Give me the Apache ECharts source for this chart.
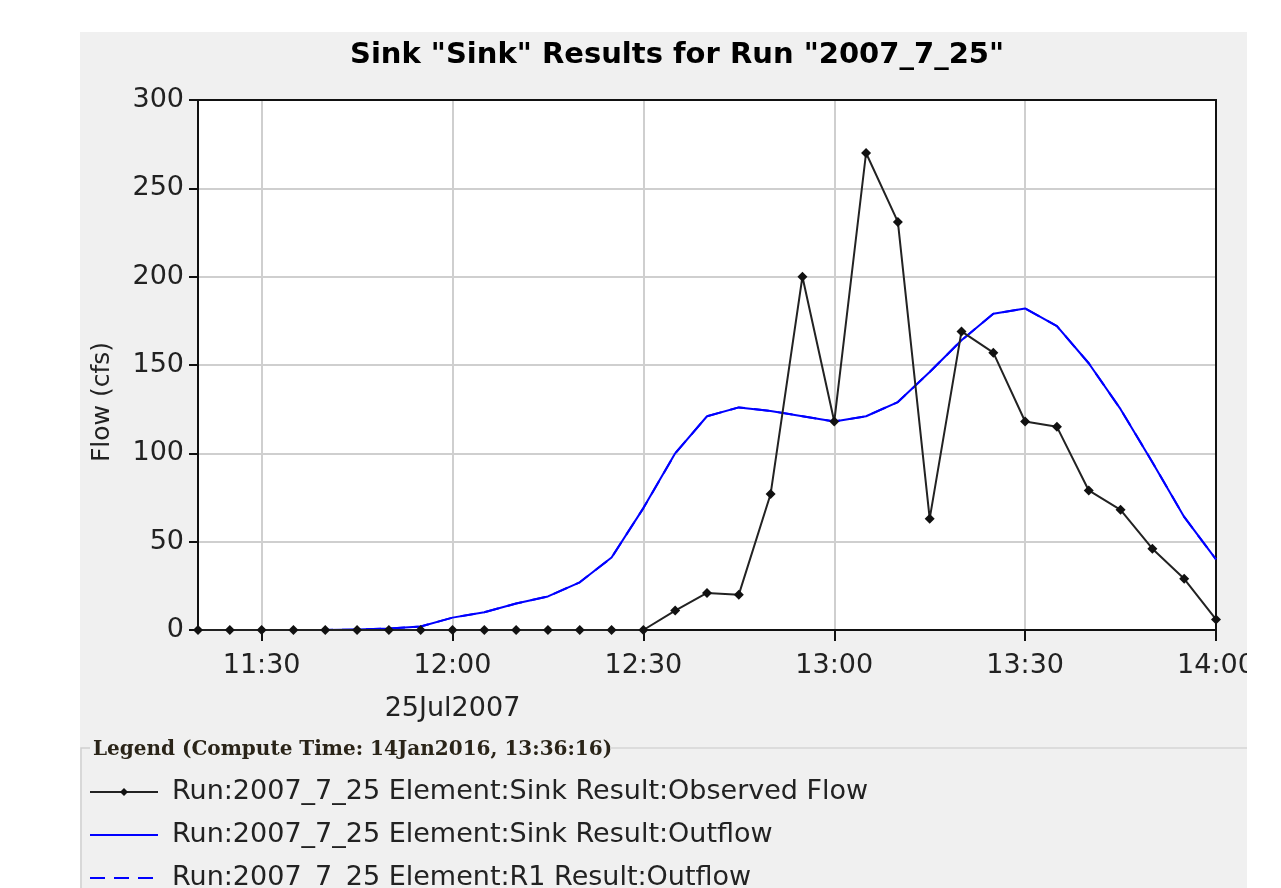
<!DOCTYPE html>
<html>
<head>
<meta charset="utf-8">
<script src="https://cdn.jsdelivr.net/npm/echarts@6/dist/echarts.min.js"></script>
<style>
  html, body { margin: 0; padding: 0; background: #fff; overflow: hidden; }
  #chart { position: absolute; left: 80px; top: 32px; width: 1167px; height: 900px; }
</style>
</head>
<body>
<div id="chart"></div>
<script>
// 5-minute steps, 25Jul2007
var times = ['11:20','11:25','11:30','11:35','11:40','11:45','11:50','11:55',
  '12:00','12:05','12:10','12:15','12:20','12:25','12:30','12:35','12:40','12:45',
  '12:50','12:55','13:00','13:05','13:10','13:15','13:20','13:25','13:30','13:35',
  '13:40','13:45','13:50','13:55','14:00'];
var observedFlow = [0,0,0,0,0,0,0,0,0,0,0,0,0,0,0,
  11,21,20,77,200,118,270,231,63,169,157,118,115,79,68,46,29,6];
var sinkOutflow = [0,0,0,0,0,0.3,0.8,2,7,10,15,19,27,41,69,
  100,121,126,124,121,118,121,129,146,164,179,182,172,151,125,95,64,40];
var r1Outflow = sinkOutflow.slice();
var yTicks = [0, 50, 100, 150, 200, 250, 300];
var dateLabel = '25Jul2007';
var seriesNames = [
  'Run:2007_7_25 Element:Sink Result:Observed Flow',
  'Run:2007_7_25 Element:Sink Result:Outflow',
  'Run:2007_7_25 Element:R1 Result:Outflow'
];

var myChart = echarts.init(document.getElementById('chart'));
var font = 'DejaVu Sans';

function halfHour(i) { return i % 6 === 2; }

// plain frame lines for the top and right side of the plot
var frameAxis = {
  axisLine: { show: true, onZero: false, lineStyle: { color: '#111', width: 2 } },
  axisTick: { show: false }, axisLabel: { show: false }, splitLine: { show: false }
};

var option = {
  backgroundColor: '#f0f0f0',
  animation: false,
  title: {
    text: 'Sink "Sink" Results for Run "2007_7_25"',
    left: 265,
    top: 4,
    textStyle: { fontFamily: font, fontSize: 29, fontWeight: 'bold', color: '#000' }
  },
  grid: {
    left: 118, top: 68, right: 31, bottom: 302,
    outerBoundsMode: 'none',
    show: true, backgroundColor: '#fff', borderColor: '#222', borderWidth: 2
  },
  legend: {
    orient: 'vertical',
    left: 4,
    top: 740,
    itemWidth: 68,
    itemHeight: 10,
    itemGap: 13,
    lineStyle: { width: 2 },
    data: [
      { name: seriesNames[0] },
      { name: seriesNames[1], itemStyle: { opacity: 0 } },
      { name: seriesNames[2], itemStyle: { opacity: 0 } }
    ],
    textStyle: { fontFamily: font, fontSize: 27, color: '#222', lineHeight: 30, padding: [0, 0, 0, 9] }
  },
  xAxis: [{
    type: 'category',
    data: times,
    boundaryGap: false,
    axisLine: { lineStyle: { color: '#111', width: 2 } },
    axisTick: { interval: halfHour, length: 11, lineStyle: { color: '#111', width: 2 } },
    splitLine: { show: true, interval: halfHour, lineStyle: { color: '#cfcfcf', width: 2 } },
    axisLabel: {
      interval: halfHour,
      margin: 14,
      fontFamily: font, fontSize: 27, color: '#222', lineHeight: 43,
      formatter: function (v) { return v === '12:00' ? v + '\n' + dateLabel : v; }
    }
  }, Object.assign({ type: 'category', data: times, boundaryGap: false, position: 'top' }, frameAxis)],
  yAxis: [{
    type: 'value',
    min: yTicks[0], max: yTicks[yTicks.length - 1], interval: 50,
    axisLine: { show: true, lineStyle: { color: '#111', width: 2 } },
    axisTick: { show: true, length: 9, lineStyle: { color: '#111', width: 2 } },
    splitLine: { lineStyle: { color: '#cfcfcf', width: 2 } },
    axisLabel: { margin: 14, fontFamily: font, fontSize: 27, color: '#222' }
  }, Object.assign({ type: 'value', min: 0, max: 300, position: 'right' }, frameAxis)],
  series: [
    {
      name: seriesNames[2], type: 'line', data: r1Outflow, z: 1,
      symbol: 'none', color: '#0000ff',
      lineStyle: { color: '#0000ff', width: 2, type: [15, 9] }
    },
    {
      name: seriesNames[1], type: 'line', data: sinkOutflow, z: 2,
      symbol: 'none', color: '#0000ff',
      lineStyle: { color: '#0000ff', width: 2 }
    },
    {
      name: seriesNames[0], type: 'line', data: observedFlow, z: 3,
      symbol: 'diamond', symbolSize: 10, showAllSymbol: true, color: '#111',
      lineStyle: { color: '#222', width: 2 }
    }
  ],
  graphic: [
    {
      type: 'text', x: 22, y: 370, rotation: Math.PI / 2,
      style: { text: 'Flow (cfs)', font: '25px "DejaVu Sans"', fill: '#222', align: 'center', verticalAlign: 'middle' }
    },
    {
      type: 'polyline',
      shape: { points: [[1, 900], [1, 716], [10, 716]] },
      style: { stroke: '#cfcfcf', lineWidth: 1.5, fill: null }
    },
    {
      type: 'text', x: 13, y: 718,
      style: { text: 'Legend (Compute Time: 14Jan2016, 13:36:16)', font: 'bold 20px "DejaVu Serif"', fill: '#2a2418', verticalAlign: 'middle' }
    },
    {
      type: 'line',
      shape: { x1: 530, y1: 716, x2: 1167, y2: 716 },
      style: { stroke: '#d6d6d6', lineWidth: 1.5 }
    }
  ]
};
myChart.setOption(option);
</script>
</body>
</html>
